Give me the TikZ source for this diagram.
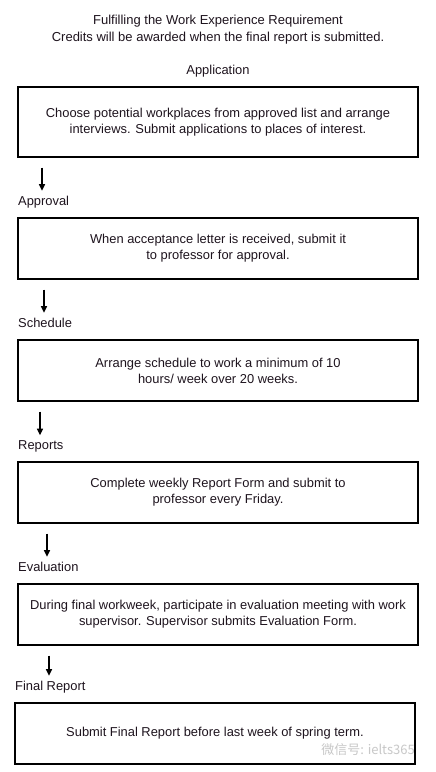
\documentclass[tikz,border=0pt]{standalone}
\usepackage{fontspec}
\setmainfont{Liberation Sans}
\newfontfamily\cjkfont{Noto Sans CJK SC}
\usepackage{xcolor}
\usepackage{tikz}
\usetikzlibrary{arrows.meta,calc,positioning}
\definecolor{ink}{HTML}{1E141E}
\definecolor{mark}{HTML}{C8C8C8}
\tikzset{
  >={Triangle[length=6.5pt,width=6pt]},
  every node/.style={font=\fontsize{12.9}{16}\selectfont,text=ink},
  stepbox/.style={draw=black,line width=1.1pt,minimum width=400pt,minimum height=61pt,align=center,inner sep=0pt},
  phase/.style={anchor=west,inner sep=0pt,text height=9.5pt,text depth=2.7pt},
  flow/.style={->,draw=black,line width=1.1pt,shorten >=5pt},
}

\begin{document}
\begin{tikzpicture}[x=1pt,y=-1pt]
  \useasboundingbox[fill=white] (0,0) rectangle (436,772);
  % heading
  \node[align=center,font=\fontsize{13}{17}\selectfont] (title) at (218,29.5) {Fulfilling the Work Experience Requirement\\Credits will be awarded when the final report is submitted.};
  \node (lapply) at (218,71) {Application};
  % steps
  \node[stepbox,minimum height=70pt] (apply) at (218,122) {Choose potential workplaces from approved list and arrange\\interviews. Submit applications to places of interest.};
  \node[phase] (lapproval) at (18,202) {Approval};
  \node[stepbox] (approve) at (218,248.5) {When acceptance letter is received, submit it\\to professor for approval.};
  \node[phase] (lschedule) at (18,324) {Schedule};
  \node[stepbox] (sched) at (218,370.5) {Arrange schedule to work a minimum of 10\\hours/ week over 20 weeks.};
  \node[phase] (lreports) at (18,446.5) {Reports};
  \node[stepbox] (report) at (218,492.5) {Complete weekly Report Form and submit to\\professor every Friday.};
  \node[phase] (leval) at (18,568) {Evaluation};
  \node[stepbox] (evalu) at (218,614.5) {During final workweek, participate in evaluation meeting with work\\supervisor. Supervisor submits Evaluation Form.};
  \node[phase] (lfinal) at (15,687) {Final Report};
  \node[stepbox] (final) at (215,733.5) {Submit Final Report before last week of spring term.};
  % arrows between steps
  \foreach \b/\l/\x in {apply/lapproval/42,approve/lschedule/44,sched/lreports/40,report/leval/47,evalu/lfinal/49}{
    \path (\b.south) ++(0,10) coordinate (tail);
    \path (\x,0) coordinate (col);
    \draw[flow] (tail -| col) -- (\l.north -| col);
  }
  \node[text=mark,font=\fontsize{13}{15}\selectfont\cjkfont] (wm) at (368,750) {微信号: ielts365};
\end{tikzpicture}
\end{document}
